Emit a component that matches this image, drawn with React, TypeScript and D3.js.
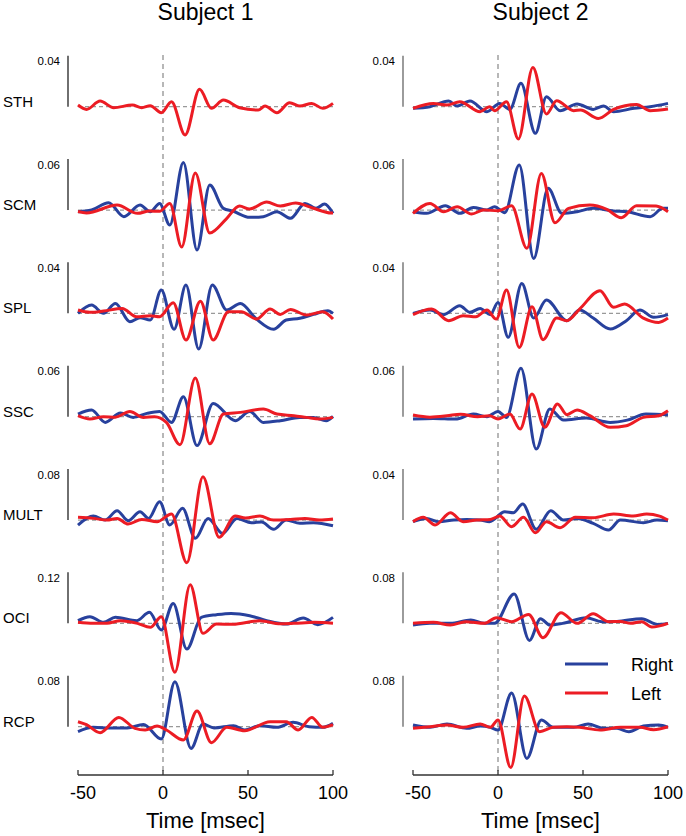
import * as d3 from 'd3'

type Pt = [number, number]

const muscles = ['STH', 'SCM', 'SPL', 'SSC', 'MULT', 'OCI', 'RCP']
const subjects = ['Subject 1', 'Subject 2']
const xTicks = [-50, 0, 50, 100]
// scale bar value per panel
const bars1 = [0.04, 0.06, 0.04, 0.06, 0.08, 0.12, 0.08]
const bars2 = [0.04, 0.06, 0.04, 0.06, 0.04, 0.08, 0.08]

// waveforms: [time msec, amplitude x 1e-3]
// Subject 1
const s1STH_L: Pt[] = [[-50, 1.3], [-45, -2.1], [-37, 4.4], [-29, -0.8], [-18, 1.3], [-12.5, -0.8], [-7.5, 0.8], [-1, -4.7], [5, 3.9], [13, -22.2], [21.5, 13.6], [28.5, -1.3], [35.5, 5.2], [45, -0.8], [56, -2.6], [60, 0.5], [67, -4.7], [74.5, 3.1], [80.5, 0.5], [87.5, 2.6], [94, -1.3], [100, 2.6]]
const s1SCM_L: Pt[] = [[-50, -1.8], [-45, -3.5], [-27, 5.9], [-15, -3.9], [-8, -1.2], [-2, -1.5], [4, 7.8], [11, -43.5], [19, 43.5], [27.5, -27], [37, -11], [45, 4.7], [51, 1.2], [61, 9.4], [69, 4.7], [78, 8.2], [88, 2.4], [99, -3.5], [100, -3.5]]
const s1SCM_R: Pt[] = [[-50, -2], [-42, 0], [-32, 8.6], [-23, -7.8], [-13.5, 5.9], [-7.5, -2], [-2, 7.8], [4, -17.6], [12, 56], [20, -47], [27.5, 29.4], [35.5, 2], [41, -1.2], [51, -8.6], [59, -7.8], [67, -2], [75, -9.8], [83.5, 7.8], [90, 2], [95, 7], [100, -3.9]]
const s1SPL_L: Pt[] = [[-50, 2.6], [-43, 0.8], [-35, 1.8], [-24, 3.9], [-15.5, -2.6], [-7.5, -1.8], [-2, -2.6], [6, 8.4], [13.5, -20.9], [22, 9.6], [29.5, -20.9], [38.5, 1.3], [46, 1.3], [55, -4.5], [63, 3.4], [69, -0.8], [75, 3.1], [84.5, -1.3], [94, 1.3], [100, -4.5]]
const s1SPL_R: Pt[] = [[-50, 0], [-42, 6.5], [-35, 0], [-28, 7.8], [-19.5, -6.5], [-13.5, -3.4], [-7.5, -5.2], [-1, 18.3], [6.5, -12.5], [13.5, 22.2], [21, -28], [29, 22.2], [37.5, 2.6], [45.5, 7.8], [55, -4.5], [65, -12.5], [72.5, -5.2], [80.5, -3.9], [88.5, -0.8], [97, 2.1], [100, 0]]
const s1SSC_L: Pt[] = [[-50, 1.2], [-43, -2.7], [-35, 0], [-28, -0.5], [-19.5, 6.2], [-11.5, -0.8], [-5, 0], [2, -6.7], [10, -33], [19, 45.5], [27.5, -31.8], [35.5, 3.1], [45.5, 5.1], [59, 9], [67, 3.1], [77, 1.2], [84.5, -0.8], [92, -2.7], [100, -0.8]]
const s1SSC_R: Pt[] = [[-50, 3.1], [-42, 7.8], [-34, -6.7], [-25, 4.3], [-17.5, -0.8], [-9.5, 3.9], [-2, 6.2], [5, -6.7], [12, 23.5], [20, -34], [29.5, 15.6], [42.5, -4.7], [51, 6.2], [59, -6.7], [69, -4.7], [80.5, -0.8], [88.5, -0.8], [96, -4.7], [100, 0.4]]
const s1MULT_L: Pt[] = [[-50, 4.2], [-41, 2.6], [-33, 0], [-27, 2.6], [-20.5, -6.3], [-12.5, 1], [-3.5, -2.6], [5, 9.4], [14, -67], [23.5, 68], [33, -27], [42.5, 6.3], [48.5, 3.2], [57, 6.3], [65, 0], [75, 1], [83.5, 2.6], [92, 0], [100, 1.6]]
const s1MULT_R: Pt[] = [[-50, -7.8], [-41, 6.3], [-34, 0], [-27, 14.6], [-20.5, -1], [-13.5, 13], [-8.5, 2.6], [-2, 28.7], [4, -7.8], [11.5, 18.3], [19, -28.7], [26.5, 2.6], [35, -20.9], [43.5, 2.6], [52, -4.2], [58, -3.1], [65, -14.6], [72.5, 0], [80.5, -5.2], [88.5, -4.2], [100, -8.9]]
const s1OCI_L: Pt[] = [[-50, 2.4], [-41, 0], [-33, 0.5], [-25, 6.3], [-15, 0], [-7.5, -9.4], [-1, 15.7], [7, -115], [16, 91], [23.5, -23.5], [31.5, -1.6], [41, -2], [57, 6.3], [69, -1], [77, 0], [89, 2.4], [100, 0]]
const s1OCI_R: Pt[] = [[-50, 6.3], [-43, 15.7], [-35, 2.4], [-28, 14.1], [-15.5, 6.3], [-8, 25.9], [-1, -15.7], [6, 47], [14, -60.5], [22.5, 14.1], [31.5, 20.4], [40, 23.5], [51, 18.1], [61, 6.3], [72.5, -1.6], [82.5, 12.5], [91, -3.1], [100, 14.1]]
const s1RCP_L: Pt[] = [[-50, 7.8], [-45, 3.1], [-37, -9.4], [-26, 14.6], [-16.5, -2.6], [-10.5, -5.2], [-3.5, 1], [2, -5.2], [12, -20.9], [20, 24.6], [28.5, -25.1], [37.5, -1], [48, -6.3], [63, 7.8], [72.5, 7.8], [79.5, -5.2], [87.5, 14.6], [94, -1], [100, 3.1]]
const s1RCP_R: Pt[] = [[-50, -7.8], [-41, -1], [-31, -2], [-21, -2], [-11.5, 3.6], [-1, -19.3], [7, 70.6], [16.5, -34], [23.5, 4.2], [30, -2], [41.5, 1.6], [48, -5.2], [57, 1.6], [67, -1], [76.5, 6.8], [86, 0], [94, -1], [100, 5.2]]

// Subject 2
const s2STH_L: Pt[] = [[-50, -1.3], [-38, 2.6], [-30, 1.3], [-22.5, 3.9], [-10.5, -3.9], [-5, 0], [-2, -3.1], [5, 3.9], [12, -25.3], [20.5, 30.8], [28.5, -5.7], [34.5, 4.7], [44.5, -3.1], [48.5, -2.6], [59, -9.2], [68, -2.1], [81.5, 1.8], [89.5, -3.1], [100, -1.8]]
const s2STH_R: Pt[] = [[-50, -1.3], [-40, 0], [-29, 4.5], [-24, 0.5], [-16.5, 4.5], [-6.5, -3.9], [1, 2.6], [7, -2.1], [13.5, 18.3], [22, -20.9], [28.5, 7.8], [36.5, -3.1], [46.5, 2.1], [56, -2.1], [62, 0.5], [68, -3.9], [80, -1.3], [89.5, 0], [100, 2.6]]
const s2SCM_L: Pt[] = [[-50, -3.9], [-40, 7.8], [-32, -2], [-24, 3.9], [-15.5, -4.7], [-8.5, 0], [0, -0.8], [8, 5.1], [17, -45], [25.5, 43], [33.5, -15], [41.5, 2], [54, 5.9], [64, 0.8], [72.5, -9], [81.5, 5.1], [93, 4.7], [100, -2]]
const s2SCM_R: Pt[] = [[-50, -2], [-42, -3.9], [-31, 5.1], [-22.5, -3.9], [-14.5, 3.1], [-6.5, 0], [-2, 3.9], [4, -3.1], [12.5, 53], [21, -57], [29.5, 25.5], [37.5, -3.9], [46.5, -2], [56, 2], [68, -1], [76, -2], [89.5, -7.8], [97, 2], [100, 2]]
const s2SPL_L: Pt[] = [[-50, -1], [-39, 3.4], [-29, -5.7], [-20.5, -1.8], [-13, -2.6], [-6.5, 2.6], [-1, -4.5], [5, 18.3], [12.5, -26.7], [20, 5.2], [26.5, -20.6], [34.5, -3.7], [40.5, -5.7], [48, 3.4], [60, 17.8], [68, 4.7], [74.5, 7.3], [85.5, -3.7], [94.5, -7.1], [100, -3.7]]
const s2SPL_R: Pt[] = [[-50, 0], [-40, 2.6], [-32, -1], [-22.5, 6], [-16.5, 0.8], [-10.5, 3.9], [-4.5, -1], [0, 8.6], [6, -18.8], [14, 23.5], [21, -3.7], [28.5, 10.4], [40.5, -5.7], [48, 2.6], [56, -3.7], [66, -12.3], [75.5, -5.7], [83.5, 2.6], [91.5, -3.1], [100, -1]]
const s2SSC_L: Pt[] = [[-50, 2], [-40, -0.5], [-30, 1], [-22, 3], [-12, 0], [-5, 1], [0, -2.7], [7, 3.1], [13, -14.5], [20, 26.7], [27.5, -12.5], [35, 15], [40.5, 2.4], [46.5, 7.8], [54, 1.2], [66, -12.5], [75.5, -10.6], [85.5, -0.8], [94.5, 1.2], [100, 7]]
const s2SSC_R: Pt[] = [[-50, -2.7], [-38, -2], [-25, -2.7], [-14.5, 3.1], [-6.5, 0], [0, 6.2], [5, -0.8], [13.5, 57], [22.5, -38], [30.5, 9], [38.5, -3.9], [52, -1.5], [66, -6.7], [76, -4], [87, 3.1], [100, 2.4]]
const s2MULT_L: Pt[] = [[-50, -1.3], [-44, 2.1], [-37, -3.9], [-28, 5.7], [-20.5, -1.3], [-12.5, 0], [-4.5, 0.5], [1, 3.1], [8, -5.2], [15, 2.1], [22, -10], [28.5, -1.3], [36.5, -6], [45.5, 2.1], [56, 1.8], [68, 4.7], [79.5, 3.1], [87.5, 4.7], [95, 3.1], [100, 0]]
const s2MULT_R: Pt[] = [[-50, -1.3], [-42, 1.3], [-35, -1.3], [-26, 0], [-18.5, 0.5], [-10.5, 0], [-5, -1.3], [4, 6.5], [9, 5.7], [14.5, 12.5], [22.5, -7.3], [31, 7.3], [38.5, 0], [46.5, 1.3], [56, -2.6], [65, -7.8], [72, 0], [85.5, -2.1], [93.5, 0], [100, -0.5]]
const s2OCI_L: Pt[] = [[-50, 0], [-38, 1.6], [-28, -2.6], [-19, 2.6], [-8, 0], [-1, 9], [8, 2.6], [18, 14], [26.5, -22.5], [37, 16.8], [46.5, 0], [56, 15.2], [65, 2.6], [72, 3], [78, 0], [84.5, 2.6], [90.5, -5.8], [100, 0]]
const s2OCI_R: Pt[] = [[-50, -2.6], [-40, 0], [-28, 0], [-16, 5.2], [-8, 0], [-2, 0], [9.5, 46], [18.5, -26.7], [25, 7.3], [30.5, -2.6], [38, 0], [52, 8.9], [61, 2.6], [70, 3.1], [84.5, 7.3], [94, -1.6], [100, 0]]
const s2RCP_L: Pt[] = [[-50, -2.6], [-40, 0], [-30, 2.6], [-20.5, -1], [-10.5, 4.2], [-4.5, -1], [0, 10.5], [7.5, -64], [15.5, 48], [24.5, -7.8], [32.5, -1], [40.5, 0], [48, -1], [60, -5.2], [72, -1], [83.5, -1], [91.5, -4.7], [100, 0]]
const s2RCP_R: Pt[] = [[-50, 2.6], [-40, -1], [-30, 4.2], [-18.5, -2.6], [-10.5, 1], [-4.5, -1], [0, -5.2], [8, 53], [17, -49.7], [25.5, 10.5], [32.5, -1], [44.5, -1], [53, 4.2], [62, -2.6], [70, -2.6], [77, -7.8], [85.5, 1], [94.5, 2.6], [100, -1]]

const columns = [
  {
    title: subjects[0],
    bars: bars1,
    right: [null, s1SCM_R, s1SPL_R, s1SSC_R, s1MULT_R, s1OCI_R, s1RCP_R],
    left: [s1STH_L, s1SCM_L, s1SPL_L, s1SSC_L, s1MULT_L, s1OCI_L, s1RCP_L],
    range: [78, 333],
    barX: 68,
    barColor: '#222',
  },
  {
    title: subjects[1],
    bars: bars2,
    right: [s2STH_R, s2SCM_R, s2SPL_R, s2SSC_R, s2MULT_R, s2OCI_R, s2RCP_R],
    left: [s2STH_L, s2SCM_L, s2SPL_L, s2SSC_L, s2MULT_L, s2OCI_L, s2RCP_L],
    range: [413, 668],
    barX: 403,
    barColor: '#666',
  },
]

const BLUE = '#28419d'
const RED = '#ec1c24'
const FONT = 'Liberation Sans, Arial, Helvetica, sans-serif'
const BAR_PX = 51
const AXIS_Y = 775

export default function App() {
  const rowY = d3.scalePoint<string>().domain(muscles).range([106.7, 726.7])

  return (
    <svg width={686} height={836} style={{ position: 'absolute', left: 0, top: 0 }} fontFamily={FONT}>
      <rect width={686} height={836} fill="#fff" />
      {columns.map((col, ci) => {
        const x = d3.scaleLinear().domain([-50, 100]).range(col.range)
        const mid = (col.range[0] + col.range[1]) / 2
        return (
          <g key={ci}>
            <text x={mid} y={20} textAnchor="middle" fontSize={23}>{col.title}</text>

            {/* stimulus onset */}
            <line x1={x(0)} x2={x(0)} y1={55} y2={AXIS_Y} stroke="#999" strokeWidth={1.4} strokeDasharray="5,4" />

            {muscles.map((m, i) => {
              const base = rowY(m)!
              const scaleVal = col.bars[i]
              const y = d3.scaleLinear().domain([0, scaleVal * 1000]).range([base, base - BAR_PX])
              const line = d3.line<Pt>().x(d => x(d[0])).y(d => y(d[1])).curve(d3.curveMonotoneX)
              const r = col.right[i]
              const l = col.left[i]
              return (
                <g key={m}>
                  {ci === 0 && <text x={3} y={base} fontSize={15}>{m}</text>}
                  <text x={col.barX - 8} y={y(scaleVal * 1000) + 9.5} textAnchor="end" fontSize={11.5}>{String(scaleVal)}</text>
                  <line x1={col.barX} x2={col.barX} y1={y(0)} y2={y(scaleVal * 1000)} stroke={col.barColor} strokeWidth={1.3} />
                  <line x1={x(-50)} x2={x(100)} y1={y(0)} y2={y(0)} stroke="#999" strokeWidth={1.2} strokeDasharray="4,3" />
                  {r && <path d={line(r)!} fill="none" stroke={BLUE} strokeWidth={3} strokeLinejoin="round" />}
                  {l && <path d={line(l)!} fill="none" stroke={RED} strokeWidth={3} strokeLinejoin="round" />}
                </g>
              )
            })}

            {/* x axis */}
            <line x1={x(-50)} x2={x(100)} y1={AXIS_Y} y2={AXIS_Y} stroke="#333" strokeWidth={1.3} />
            {xTicks.map(t => (
              <g key={t}>
                <line x1={x(t)} x2={x(t)} y1={AXIS_Y} y2={AXIS_Y - 5} stroke="#333" strokeWidth={1.3} />
                <text x={x(t) + (t < 0 ? 5 : 0)} y={799} textAnchor="middle" fontSize={18}>{t}</text>
              </g>
            ))}
            <text x={mid} y={828} textAnchor="middle" fontSize={22}>Time [msec]</text>
          </g>
        )
      })}

      {/* legend */}
      {[{ label: 'Right', color: BLUE }, { label: 'Left', color: RED }].map((d, i) => (
        <g key={d.label}>
          <line x1={565} x2={608} y1={664 + i * 29} y2={664 + i * 29} stroke={d.color} strokeWidth={3} />
          <text x={631} y={670.5 + i * 29} fontSize={18}>{d.label}</text>
        </g>
      ))}
    </svg>
  )
}
